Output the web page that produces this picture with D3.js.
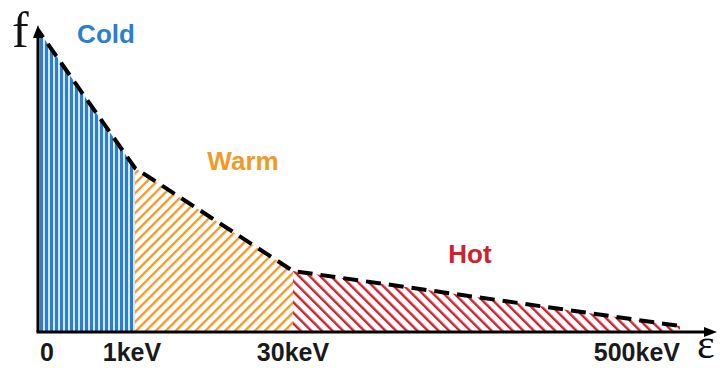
<!DOCTYPE html>
<html>
<head>
<meta charset="utf-8">
<script src="https://cdn.jsdelivr.net/npm/d3@7"></script>
<style>
  html, body { margin: 0; padding: 0; background: #fff; }
  svg { display: block; }
</style>
</head>
<body>
<svg id="chart" width="721" height="368"></svg>
<script>
// ---- data ----
const energies = [0, 1, 30, 500];            // keV, breakpoints of the distribution
const fValues = [1.0, 0.543, 0.202, 0.02];    // relative f at each breakpoint
const tickLabels = ["0", "1keV", "30keV", "500keV"];
const regions = ["Cold", "Warm", "Hot"];
const regionColors = ["#2a7fd2", "#f09a28", "#d0212d"];

const svg = d3.select("#chart");

// piecewise energy axis (not to scale, as in the schematic)
const x = d3.scaleLinear().domain(energies).range([38, 135, 293, 680]);
const y = d3.scaleLinear().domain([0, 1]).range([332, 30]);

const defs = svg.append("defs");
// Cold: vertical stripes
const pCold = defs.append("pattern").attr("id", "hatch0")
  .attr("patternUnits", "userSpaceOnUse").attr("width", 5).attr("height", 5);
pCold.append("rect").attr("width", 5).attr("height", 5).attr("fill", "#d6e8f8");
pCold.append("rect").attr("x", 0).attr("width", 3).attr("height", 5).attr("fill", regionColors[0]);
// Warm: "/" stripes
const pWarm = defs.append("pattern").attr("id", "hatch1")
  .attr("patternUnits", "userSpaceOnUse").attr("width", 7).attr("height", 7)
  .attr("patternTransform", "rotate(45)");
pWarm.append("rect").attr("width", 7).attr("height", 7).attr("fill", "#fff");
pWarm.append("rect").attr("width", 2.4).attr("height", 7).attr("fill", regionColors[1]);
// Hot: "\" stripes
const pHot = defs.append("pattern").attr("id", "hatch2")
  .attr("patternUnits", "userSpaceOnUse").attr("width", 7.5).attr("height", 7.5)
  .attr("patternTransform", "rotate(-45)");
pHot.append("rect").attr("width", 7.5).attr("height", 7.5).attr("fill", "#fff");
pHot.append("rect").attr("width", 2.4).attr("height", 7.5).attr("fill", regionColors[2]);

const pts = energies.map((e, i) => ({ e, f: fValues[i] }));
const area = d3.area().x(d => x(d.e)).y0(y(0)).y1(d => y(d.f));

// hatched regions
for (let i = 0; i < regions.length; i++) {
  svg.append("path")
    .datum([pts[i], pts[i + 1]])
    .attr("d", area)
    .attr("fill", `url(#hatch${i})`);
}

// axes
const axisG = svg.append("g");
axisG.append("line")
  .attr("x1", x(0)).attr("y1", y(0)).attr("x2", x(0)).attr("y2", 36)
  .attr("stroke", "#000").attr("stroke-width", 3);
axisG.append("path")
  .attr("d", d3.line()([[x(0) - 5, 38], [x(0), 25], [x(0) + 5, 38]]) + "Z")
  .attr("fill", "#000");
axisG.append("line")
  .attr("x1", x(0) - 1.5).attr("y1", y(0)).attr("x2", 706).attr("y2", y(0))
  .attr("stroke", "#000").attr("stroke-width", 3);
axisG.append("path")
  .attr("d", d3.line()([[704, y(0) - 5], [717, y(0)], [704, y(0) + 5]]) + "Z")
  .attr("fill", "#000");

// dashed distribution curve
svg.append("path")
  .datum(pts)
  .attr("d", d3.line().x(d => x(d.e)).y(d => y(d.f)))
  .attr("fill", "none")
  .attr("stroke", "#000")
  .attr("stroke-width", 4)
  .attr("stroke-dasharray", "15,8")
  .attr("stroke-dashoffset", 6);

// tick labels
const anchors = ["start", "middle", "middle", "end"];
const dxs = [2, -3, 0, 0];
svg.selectAll("text.tick").data(tickLabels).join("text")
  .attr("class", "tick")
  .attr("x", (d, i) => x(energies[i]) + dxs[i])
  .attr("y", 361)
  .attr("text-anchor", (d, i) => anchors[i])
  .attr("font-family", "Liberation Sans, Arial, sans-serif")
  .attr("font-weight", "bold")
  .attr("font-size", 25)
  .attr("fill", "#1a1a1a")
  .text(d => d);

// region labels
const labelPos = [[106, 43], [243, 170], [470, 263]];
svg.selectAll("text.region").data(regions).join("text")
  .attr("class", "region")
  .attr("x", (d, i) => labelPos[i][0])
  .attr("y", (d, i) => labelPos[i][1])
  .attr("text-anchor", "middle")
  .attr("font-family", "Liberation Sans, Arial, sans-serif")
  .attr("font-weight", "bold")
  .attr("font-size", 26)
  .attr("fill", (d, i) => regionColors[i])
  .text(d => d);

// axis symbols
svg.append("text").attr("x", 12).attr("y", 47)
  .attr("font-family", "Liberation Serif, Times New Roman, serif")
  .attr("font-size", 50).attr("fill", "#111").text("f");
svg.append("text").attr("x", 697).attr("y", 358)
  .attr("font-family", "Liberation Serif, Times New Roman, serif")
  .attr("font-size", 42).attr("fill", "#111").text("ε");
</script>
</body>
</html>
